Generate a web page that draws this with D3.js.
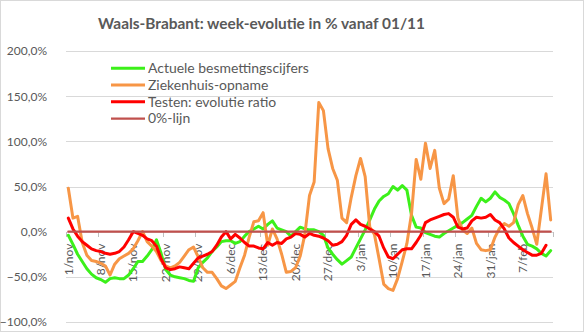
<!DOCTYPE html>
<html>
<head>
<meta charset="utf-8">
<script src="https://cdn.jsdelivr.net/npm/d3@7"></script>
<style>
  html, body { margin: 0; padding: 0; background: #fff; }
  svg { display: block; font-family: Lato, "Liberation Sans", sans-serif; }
</style>
</head>
<body>
<svg id="chart" width="584" height="332"></svg>
<script>
// Dagelijkse categorieën: 1 november t/m 13 februari
const startDate = new Date(2020, 10, 1);
const endDate = new Date(2021, 1, 14);
const maanden = ["jan","feb","mrt","apr","mei","jun","jul","aug","sep","okt","nov","dec"];
const categories = d3.timeDays(startDate, endDate).map(d => d.getDate() + "/" + maanden[d.getMonth()]);

// Labels langs de horizontale as (elke 7 dagen)
const tickLabels = ["1/nov","8/nov","15/nov","22/nov","29/nov","6/dec","13/dec","20/dec","27/dec","3/jan","10/jan","17/jan","24/jan","31/jan","7/feb"];
const tickEvery = 7;

// Verticale as
const yTicks = [-100, -50, 0, 50, 100, 150, 200];

// Week-evolutie in %
const besmettingen = [
  -4, -14, -25, -33, -41, -47, -51, -53, -56, -52,
  -51, -52, -52, -48, -41, -33, -33, -27, -20, -9,
  -24, -42, -48, -50, -51, -52, -54, -55, -40, -34,
  -29, -22, -17, -11, -10, -10, -13, -11, -5, 0,
  3, 6, 3, 8, 12, 4, 2, 0, -5, 0,
  5, 3, 2, 2, 0, -4, -18, -25, -31, -36,
  -32, -28, -18, -8, 2, 13, 25, 34, 39, 42,
  50, 46, 51, 46, 18, 5, 4, -1, -3, -5,
  -6, -2, 1, 4, 7, 10, 14, 18, 28, 37,
  33, 37, 44, 38, 35, 31, 20, 7, -5, -14,
  -16, -19, -24, -27, -21
];
const ziekenhuis = [
  48, 15, 17, -12, -26, -32, -33, -35, -38, -48,
  -36, -30, -27, -24, -19, -10, 0, -11, -16, -22,
  -32, -38, -40, -38, -34, -27, -20, -17, -28, -40,
  -45, -45, -52, -60, -63, -59, -55, -40, -26, -6,
  11, 12, 21, -15, 3, -8, -25, -45, -44, -40,
  -27, -3, 40, 55, 143, 134, 92, 70, 57, 15,
  10, 38, 62, 81, 61, 5, -3, -30, -58, -63,
  -65, -52, -33, -13, 20, 80, 58, 98, 70, 90,
  48, 31, 36, 62, 15, 2, -2, 4, -13, -20,
  -21, -20, -6, 4, 9, 6, 10, 30, 40, 20,
  4, -14, 25, 64, 13
];
const testen = [
  15, 3, -5, -11, -15, -19, -21, -22, -24, -25,
  -24, -22, -17, -9, 0, -2, -4, -8, -10, -16,
  -30, -40, -42, -41, -39, -40, -41, -35, -29, -27,
  -25, -22, -15, -6, 0, -8, -3, -7, -12, -16,
  -16, -18, -19, -12, -15, -12, -13, -8, -6, -2,
  -3, -6, -2, -4, -5, -7, -10, -15, -14, -11,
  -4, 8, 13, 8, 6, 3, 0, -5, -18, -28,
  -30, -25, -20, -19, -19, -12, -4, 10, 13, 15,
  17, 19, 20, 16, 5, 3, 4, 12, 16, 15,
  16, 19, 13, 10, 3, -7, -12, -16, -20, -23,
  -26, -26, -24, -15, null
];
const nulLijn = categories.map(() => 0);

const series = [
  { name: "Actuele besmettingscijfers", values: besmettingen, color: "#3cf01a", width: 3 },
  { name: "Ziekenhuis-opname", values: ziekenhuis, color: "#f79646", width: 3 },
  { name: "Testen: evolutie ratio", values: testen, color: "#ff0000", width: 3 },
  { name: "0%-lijn", values: nulLijn, color: "#c0504d", width: 2.25 }
];

const svg = d3.select("#chart");
const textColor = "#595959";

// Kader rond de grafiek
svg.append("rect")
  .attr("x", 0.5).attr("y", 0.5).attr("width", 583).attr("height", 331)
  .attr("fill", "#fff").attr("stroke", "#d9d9d9");

const plot = { left: 66, right: 553, top: 51, bottom: 322 };

const x = d3.scaleBand()
  .domain(d3.range(categories.length))
  .range([plot.left, plot.right])
  .padding(0);
const xc = i => x(i) + x.bandwidth() / 2;

const y = d3.scaleLinear()
  .domain([-100, 200])
  .range([plot.bottom, plot.top]);

// Horizontale rasterlijnen en labels van de verticale as
const yAxis = d3.axisLeft(y)
  .tickValues(yTicks)
  .tickSize(-(plot.right - plot.left))
  .tickPadding(19)
  .tickFormat(d => d3.format(".1f")(d).replace(".", ",") + "%");

const gy = svg.append("g")
  .attr("transform", `translate(${plot.left},0)`)
  .call(yAxis);
gy.select(".domain").remove();
gy.selectAll(".tick line").attr("stroke", "#d9d9d9").attr("stroke-width", 1)
  .attr("shape-rendering", "crispEdges");
gy.selectAll(".tick text")
  .attr("fill", textColor)
  .style("font-size", "12px")
  .style("font-family", "Lato, sans-serif");

// Horizontale as op 0%: streepjes elke 7 dagen, labels verticaal
const tickIdx = tickLabels.map((_, k) => k * tickEvery);
const xAxis = d3.axisBottom(x)
  .tickValues(tickIdx)
  .tickSize(0)
  .tickFormat(i => tickLabels[i / tickEvery]);

const gx = svg.append("g")
  .attr("transform", `translate(0,${y(0)})`)
  .call(xAxis);
gx.select(".domain").remove();
gx.selectAll(".tick text")
  .attr("fill", textColor)
  .style("font-size", "12px")
  .style("font-family", "Lato, sans-serif")
  .attr("text-anchor", "end")
  .attr("transform", "translate(0,12) rotate(-90)")
  .attr("x", 0).attr("y", 0).attr("dy", "0.35em");

// Streepjes op de categoriegrenzen
const boundaries = tickIdx.concat([categories.length]);
svg.append("g").selectAll("line")
  .data(boundaries)
  .join("line")
  .attr("x1", i => (i < categories.length ? x(i) : plot.right))
  .attr("x2", i => (i < categories.length ? x(i) : plot.right))
  .attr("y1", y(0)).attr("y2", y(0) + 5)
  .attr("stroke", "#bfbfbf").attr("stroke-width", 1)
  .attr("shape-rendering", "crispEdges");

// Lijnen
const line = d3.line()
  .defined(d => d != null)
  .x((d, i) => xc(i))
  .y(d => y(d));

svg.append("g").selectAll("path")
  .data(series)
  .join("path")
  .attr("d", s => line(s.values))
  .attr("fill", "none")
  .attr("stroke", s => s.color)
  .attr("stroke-width", s => s.width)
  .attr("stroke-linejoin", "round")
  .attr("stroke-linecap", "round");

// Titel
const title = svg.append("text")
  .attr("x", 261.5).attr("y", 24)
  .attr("text-anchor", "middle")
  .attr("dy", "0.35em")
  .attr("fill", textColor)
  .style("font-weight", "bold")
  .style("font-family", "Lato, sans-serif")
  .style("font-size", "15px")
  .text("Waals-Brabant: week-evolutie in % vanaf 01/11");
{
  const w = title.node().getComputedTextLength();
  title.style("font-size", (15 * 327 / w).toFixed(2) + "px");
}

// Legenda
const legend = svg.append("g");
const rowY = [68.3, 85, 101.7, 118.5];
const items = legend.selectAll("g")
  .data(series)
  .join("g")
  .attr("transform", (s, k) => `translate(111,${rowY[k]})`);
items.append("line")
  .attr("x1", 0).attr("x2", 34).attr("y1", 0).attr("y2", 0)
  .attr("stroke", s => s.color)
  .attr("stroke-width", s => s.width);
const labels = items.append("text")
  .attr("x", 37).attr("y", 0).attr("dy", "0.35em")
  .attr("fill", textColor)
  .style("font-family", "Lato, sans-serif")
  .style("font-size", "13px")
  .text(s => s.name);
{
  const w = labels.nodes()[0].getComputedTextLength();
  labels.style("font-size", (13 * 161 / w).toFixed(2) + "px");
}
</script>
</body>
</html>
